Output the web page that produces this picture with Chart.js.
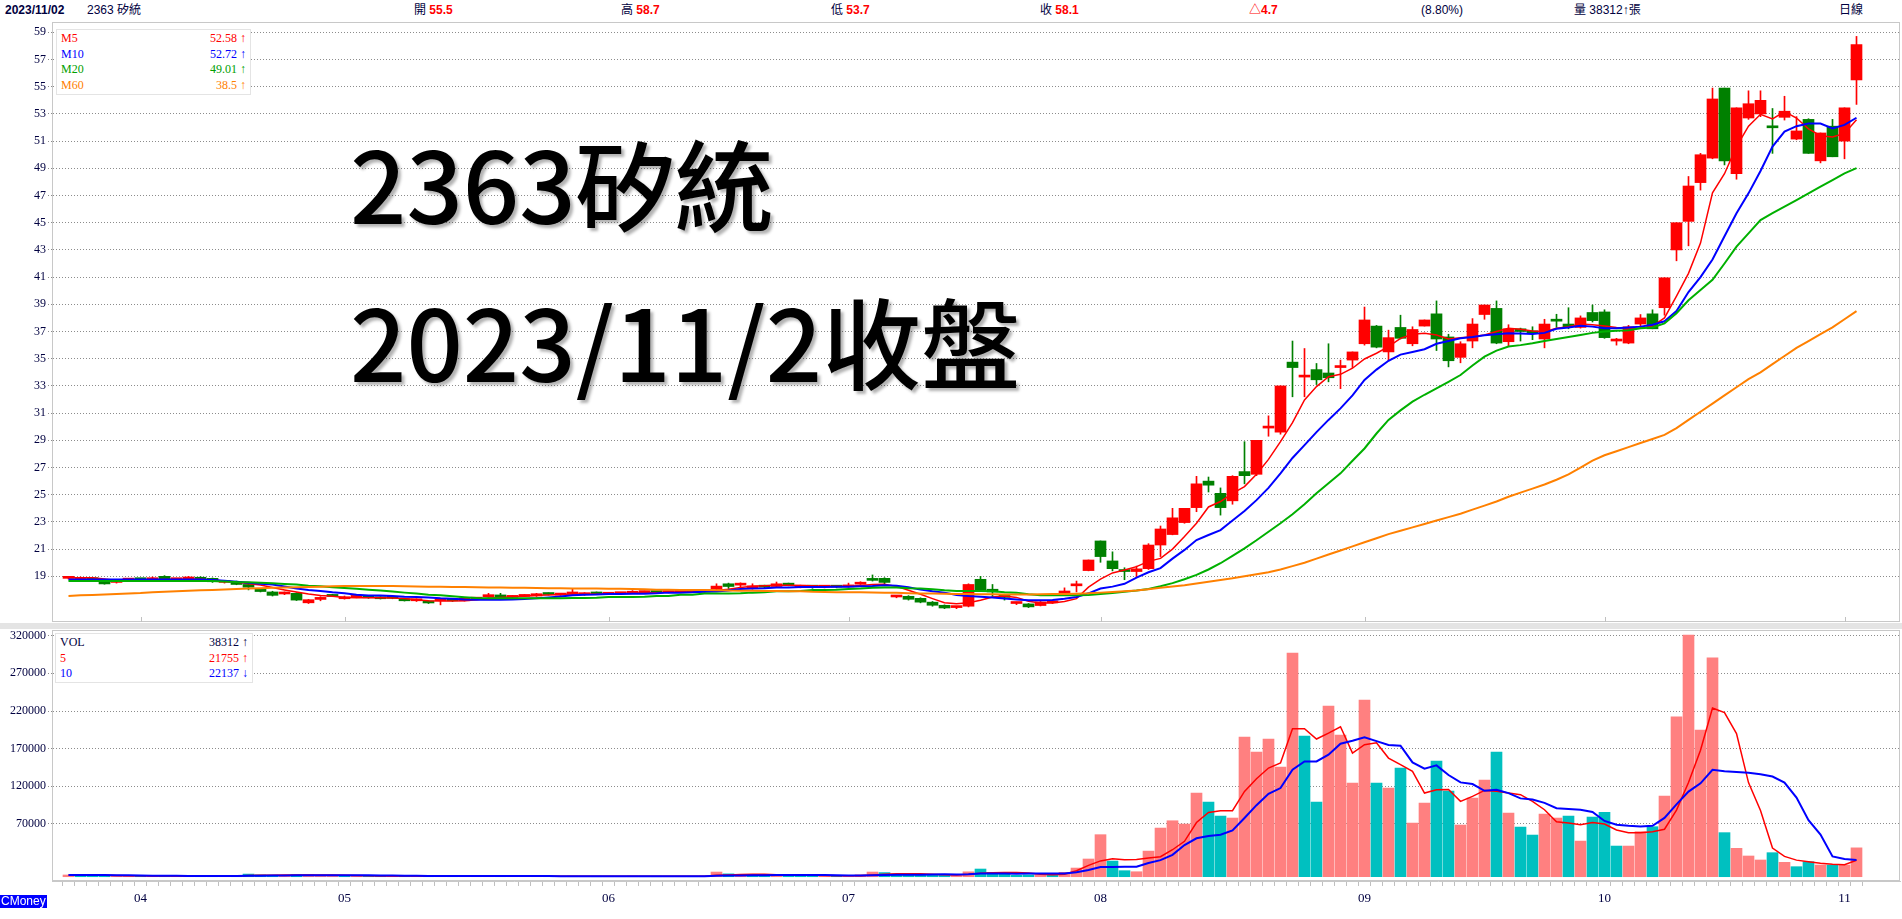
<!DOCTYPE html>
<html lang="zh-Hant">
<head>
<meta charset="UTF-8">
<title>2363 矽統 日線</title>
<script src="https://cdn.jsdelivr.net/npm/chart.js"></script>
<style>
  body { margin: 0; background: #fff; width: 1902px; height: 919px; overflow: hidden; position: relative;
         font-family: "Liberation Sans", "Noto Sans CJK TC", sans-serif; }
  .hd { position: absolute; top: 2px; font-size: 12px; line-height: 16px; color: #000040; white-space: nowrap; }
  .hd .v { color: #ff0000; font-weight: bold; }
  .wrap { position: absolute; left: 0; width: 1902px; }
  .sep { position: absolute; left: 0; top: 623px; width: 1902px; height: 6px; background: #e4e4e4; }
  .legend { position: absolute; background: #fff; border: 1px solid #e4e4e4; box-sizing: border-box;
            font-family: "Liberation Serif", "Noto Sans CJK TC", serif; font-size: 12px; padding: 1px 4px 0 4px; }
  .legend div { display: flex; justify-content: space-between; height: 15.7px; line-height: 15.7px; }
  .big { position: absolute; left: 350px; font-family: "Noto Sans CJK TC", sans-serif; font-size: 99px;
         font-weight: 500; line-height: 1; color: #000; white-space: nowrap;
         text-shadow: 3px 3px 3px rgba(0, 0, 0, 0.3); }
  .cm { position: absolute; left: 0; top: 895px; background: #0000ff; color: #fff; font-size: 12px;
        line-height: 13px; padding: 0 1px; }
</style>
</head>
<body>

<div class="hd" style="left:5px;font-weight:bold">2023/11/02</div>
<div class="hd" style="left:87px">2363 矽統</div>
<div class="hd" style="left:414px">開 <span class="v">55.5</span></div>
<div class="hd" style="left:621px">高 <span class="v">58.7</span></div>
<div class="hd" style="left:831px">低 <span class="v">53.7</span></div>
<div class="hd" style="left:1040px">收 <span class="v">58.1</span></div>
<div class="hd" style="left:1249px"><span class="v">△4.7</span></div>
<div class="hd" style="left:1421px">(8.80%)</div>
<div class="hd" style="left:1574px">量 38312↑張</div>
<div class="hd" style="left:1839px">日線</div>

<div class="wrap" style="top:22px;height:600px"><canvas id="priceChart" width="1902" height="600"></canvas></div>
<div class="sep"></div>
<div class="wrap" style="top:628px;height:291px"><canvas id="volChart" width="1902" height="291"></canvas></div>

<div class="legend" style="left:56px;top:29px;width:195px;height:66px">
  <div style="color:#ff0000"><span>M5</span><span>52.58 ↑</span></div>
  <div style="color:#0000ff"><span>M10</span><span>52.72 ↑</span></div>
  <div style="color:#00a000"><span>M20</span><span>49.01 ↑</span></div>
  <div style="color:#ff8000"><span>M60</span><span>38.5 ↑</span></div>
</div>

<div class="legend" style="left:55px;top:633px;width:198px;height:50px">
  <div style="color:#000040"><span>VOL</span><span>38312 ↑</span></div>
  <div style="color:#ff0000"><span>5</span><span>21755 ↑</span></div>
  <div style="color:#0000ff"><span>10</span><span>22137 ↓</span></div>
</div>

<div class="big" style="top:132px">2363矽統</div>
<div class="big" style="top:290px">2023/11/2收盤</div>
<div class="cm">CMoney</div>

<script>
// trading days (MM/DD), 2023/03/24 - 2023/11/02
const dates = [
  "03/24","03/27","03/28","03/29","03/30","03/31",
  "04/06","04/07","04/10","04/11","04/12","04/13","04/14","04/17","04/18","04/19","04/20","04/21","04/24","04/25","04/26","04/27","04/28",
  "05/02","05/03","05/04","05/05","05/08","05/09","05/10","05/11","05/12","05/15","05/16","05/17","05/18","05/19","05/22","05/23","05/24","05/25","05/26","05/29","05/30","05/31",
  "06/01","06/02","06/05","06/06","06/07","06/08","06/09","06/12","06/13","06/14","06/15","06/16","06/19","06/20","06/21","06/26","06/27","06/28","06/29","06/30",
  "07/03","07/04","07/05","07/06","07/07","07/10","07/11","07/12","07/13","07/14","07/17","07/18","07/19","07/20","07/21","07/24","07/25","07/26","07/27","07/28","07/31",
  "08/01","08/02","08/04","08/07","08/08","08/09","08/10","08/11","08/14","08/15","08/16","08/17","08/18","08/21","08/22","08/23","08/24","08/25","08/28","08/29","08/30","08/31",
  "09/01","09/04","09/05","09/06","09/07","09/08","09/11","09/12","09/13","09/14","09/15","09/18","09/19","09/20","09/21","09/22","09/25","09/26","09/27","09/28",
  "10/02","10/03","10/04","10/05","10/06","10/11","10/12","10/13","10/16","10/17","10/18","10/19","10/20","10/23","10/24","10/25","10/26","10/27","10/30","10/31",
  "11/01","11/02"
];

const open = [
  18.85,18.75,18.85,18.63,18.55,18.72,18.78,18.75,19.0,18.75,
  18.8,18.93,18.85,18.55,18.62,18.4,18.05,17.85,17.7,17.75,
  17.05,17.3,17.63,17.35,17.45,17.5,17.45,17.4,17.3,17.2,
  17.18,17.2,17.22,17.2,17.32,17.48,17.63,17.45,17.52,17.55,
  17.7,17.62,17.7,17.65,17.82,17.68,17.72,17.75,17.8,17.85,
  17.8,17.85,17.88,17.85,18.05,18.45,18.35,18.1,18.3,18.25,
  18.45,18.2,18.25,18.2,18.22,18.22,18.42,18.75,18.85,17.48,
  17.53,17.38,17.1,16.87,16.7,16.8,18.78,18.05,17.6,17.0,
  16.97,16.85,17.05,17.73,18.3,19.42,21.6,20.13,19.38,19.35,
  19.56,21.3,22.07,22.95,24.05,26.0,25.1,24.55,26.7,26.5,
  29.9,29.6,34.75,33.65,34.2,33.95,34.35,34.9,36.1,37.4,
  35.5,37.3,36.1,37.4,38.3,36.6,35.1,36.3,38.25,38.7,
  36.25,37.2,37.05,36.45,37.78,37.55,37.3,38.4,38.44,36.3,
  36.15,37.55,38.3,38.75,43.0,45.1,47.95,49.75,54.9,48.6,
  52.7,53.0,52.0,52.75,51.15,52.6,49.55,52.1,51.0,55.5
];
const high = [
  19.0,18.95,18.9,18.66,18.7,18.85,18.85,18.95,19.05,18.85,
  19.0,18.97,18.88,18.7,18.65,18.5,18.1,17.9,17.85,17.8,
  17.3,17.5,17.68,17.55,17.6,17.52,17.5,17.45,17.35,17.35,
  17.2,17.3,17.28,17.42,17.45,17.75,17.75,17.58,17.65,17.75,
  17.78,17.75,18.1,17.8,17.85,17.78,17.8,17.95,17.92,17.9,
  17.9,17.92,17.95,17.95,18.45,18.5,18.52,18.45,18.35,18.58,
  18.5,18.35,18.3,18.28,18.3,18.5,18.6,19.1,18.9,17.6,
  17.58,17.42,17.15,16.9,16.78,18.45,19.0,18.4,17.68,17.1,
  17.0,17.15,17.12,18.15,18.65,20.2,21.6,20.8,19.63,19.75,
  21.4,22.7,24.0,24.0,26.35,26.3,25.5,26.4,28.9,29.0,
  30.8,33.0,36.3,35.75,34.65,36.1,34.9,35.5,38.8,37.45,
  37.1,38.2,37.35,37.85,39.25,36.8,36.25,37.95,38.95,39.25,
  37.5,37.25,37.35,37.9,38.27,38.75,38.15,38.95,38.6,36.5,
  37.45,38.25,38.6,40.95,45.0,48.4,50.1,54.9,54.9,53.45,
  54.7,54.7,53.4,54.3,52.8,52.65,51.6,52.6,53.45,58.7
];
const low = [
  18.8,18.72,18.72,18.42,18.5,18.68,18.7,18.72,18.72,18.7,
  18.78,18.75,18.55,18.5,18.38,18.0,17.85,17.55,17.65,17.22,
  17.0,17.2,17.5,17.32,17.42,17.38,17.33,17.35,17.18,17.15,
  17.0,16.9,17.15,17.18,17.3,17.45,17.42,17.42,17.5,17.52,
  17.62,17.6,17.65,17.6,17.65,17.65,17.7,17.72,17.78,17.78,
  17.78,17.82,17.82,17.82,18.0,18.1,18.2,18.05,18.15,18.2,
  18.3,18.15,18.12,18.15,18.15,18.2,18.4,18.65,18.45,17.42,
  17.25,17.05,16.8,16.62,16.62,16.75,17.9,17.45,17.25,16.92,
  16.7,16.82,17.0,17.6,17.85,19.4,20.03,19.4,18.75,18.9,
  19.5,20.45,22.05,22.9,23.75,25.2,23.5,24.3,25.8,26.4,
  29.3,29.45,32.2,32.2,33.1,33.3,32.8,34.35,36.0,35.8,
  34.85,36.45,35.95,37.4,35.6,34.4,34.7,35.8,37.9,36.1,
  35.9,36.3,36.4,35.8,37.3,37.2,37.25,37.7,36.5,36.0,
  36.1,37.3,37.2,38.2,42.2,43.3,47.4,49.7,49.25,48.2,
  52.6,52.8,50.1,52.55,51.1,50.1,49.4,49.85,49.7,53.7
];
const close = [
  18.95,18.9,18.75,18.44,18.65,18.78,18.75,18.82,18.75,18.78,
  18.95,18.78,18.6,18.65,18.4,18.2,17.88,17.6,17.78,17.25,
  17.28,17.45,17.52,17.5,17.55,17.42,17.35,17.38,17.2,17.3,
  17.04,17.25,17.2,17.4,17.42,17.65,17.45,17.55,17.6,17.72,
  17.66,17.72,17.75,17.75,17.7,17.75,17.76,17.9,17.88,17.8,
  17.86,17.88,17.85,17.92,18.28,18.25,18.4,18.3,18.2,18.45,
  18.35,18.3,18.2,18.25,18.2,18.35,18.55,18.7,18.55,17.55,
  17.31,17.1,16.87,16.67,16.75,18.4,17.97,17.85,17.45,17.05,
  16.75,17.12,17.1,17.92,18.38,20.2,20.45,19.56,19.35,19.55,
  21.3,22.48,23.3,24.0,25.8,25.7,24.05,26.35,26.4,29.0,
  30.0,33.0,34.35,33.75,33.45,33.6,34.45,35.5,37.85,35.85,
  36.55,36.5,37.15,37.85,36.45,34.85,36.1,37.55,38.95,36.15,
  37.2,37.0,36.9,37.55,37.76,37.35,38.0,37.8,36.55,36.4,
  37.35,38.0,37.2,40.95,45.0,47.7,50.0,54.1,49.55,53.45,
  53.75,54.0,51.98,53.2,51.75,50.1,51.6,49.85,53.45,58.1
];

const ma5 = [
  18.9,18.9,18.9,18.8,18.7,18.72,18.73,18.75,18.76,18.77,
  18.78,18.78,18.72,18.66,18.58,18.46,18.36,18.17,18.0,17.85,
  17.7,17.58,17.53,17.45,17.43,17.43,17.42,17.4,17.36,17.28,
  17.21,17.19,17.19,17.2,17.28,17.38,17.45,17.5,17.53,17.6,
  17.63,17.66,17.7,17.69,17.68,17.72,17.73,17.78,17.8,17.8,
  17.84,17.85,17.86,17.88,17.95,18.05,18.17,18.27,18.3,18.34,
  18.34,18.33,18.3,18.27,18.26,18.27,18.33,18.39,18.41,18.26,
  17.97,17.68,17.36,17.06,16.99,17.06,17.24,17.48,17.55,17.45,
  17.16,17.04,17.04,17.14,17.36,18.2,18.8,19.25,19.47,19.71,
  20.1,20.32,21.0,21.92,22.9,24.1,24.5,25.1,25.6,26.5,
  27.6,28.9,30.3,31.97,32.95,33.68,33.85,34.3,34.98,35.4,
  35.89,36.5,36.8,36.87,36.75,36.45,36.55,36.62,36.75,37.0,
  37.24,37.16,37.04,36.99,37.24,37.36,37.55,37.5,37.4,37.3,
  37.24,37.24,37.4,38.0,39.6,41.28,43.5,47.2,48.6,50.6,
  52.1,52.97,52.63,53.17,52.7,51.9,51.4,51.3,51.57,52.58
];
const ma10 = [
  18.76,18.76,18.76,18.76,18.76,18.76,18.76,18.76,18.76,18.76,
  18.76,18.76,18.72,18.68,18.6,18.53,18.46,18.39,18.25,18.1,
  18.0,17.92,17.82,17.75,17.65,17.58,17.58,17.55,17.5,17.48,
  17.45,17.38,17.35,17.3,17.28,17.28,17.28,17.3,17.33,17.38,
  17.45,17.52,17.6,17.65,17.66,17.7,17.7,17.72,17.72,17.75,
  17.8,17.8,17.82,17.87,17.88,17.95,18.07,18.1,18.12,18.17,
  18.18,18.22,18.22,18.22,18.23,18.24,18.26,18.28,18.34,18.3,
  18.2,18.02,17.9,17.8,17.62,17.55,17.5,17.45,17.36,17.3,
  17.24,17.24,17.26,17.35,17.48,17.75,18.1,18.24,18.45,18.9,
  19.3,19.6,20.3,20.94,21.67,22.04,22.4,23.1,23.8,24.6,
  25.5,26.57,27.7,28.65,29.6,30.5,31.35,32.3,33.44,34.2,
  34.85,35.3,35.5,35.7,36.1,36.3,36.5,36.6,36.72,36.8,
  36.87,36.85,36.82,36.9,37.2,37.3,37.43,37.36,37.24,37.24,
  37.3,37.36,37.5,37.75,38.5,39.9,41.0,42.3,44.0,45.7,
  47.16,48.8,50.6,51.7,52.1,52.3,52.3,51.94,52.19,52.72
];
const ma20 = [
  18.65,18.65,18.65,18.65,18.65,18.65,18.65,18.65,18.65,18.65,
  18.65,18.65,18.66,18.62,18.58,18.56,18.52,18.49,18.44,18.39,
  18.31,18.26,18.2,18.14,18.08,18.02,17.96,17.88,17.8,17.73,
  17.65,17.6,17.53,17.46,17.4,17.38,17.38,17.38,17.38,17.38,
  17.38,17.38,17.4,17.4,17.42,17.48,17.48,17.48,17.5,17.55,
  17.55,17.65,17.65,17.73,17.73,17.73,17.75,17.8,17.82,17.9,
  17.9,17.92,18.0,18.0,18.02,18.07,18.1,18.15,18.17,18.17,
  18.12,18.1,18.05,17.97,17.92,17.92,17.92,17.9,17.82,17.8,
  17.68,17.6,17.6,17.6,17.6,17.63,17.7,17.78,17.87,17.96,
  18.07,18.27,18.5,18.78,19.1,19.5,19.96,20.5,21.06,21.65,
  22.28,22.9,23.56,24.3,25.1,25.85,26.57,27.5,28.4,29.5,
  30.5,31.2,31.84,32.35,32.82,33.3,33.8,34.5,35.15,35.6,
  35.9,36.0,36.13,36.3,36.45,36.6,36.75,36.9,37.0,37.05,
  37.1,37.24,37.3,37.6,38.34,39.3,40.05,40.8,42.0,43.24,
  44.22,45.2,45.7,46.18,46.67,47.16,47.65,48.14,48.63,49.01
];
const ma60 = [
  17.55,17.6,17.63,17.66,17.7,17.74,17.77,17.82,17.86,17.9,
  17.93,17.97,18.0,18.03,18.07,18.1,18.12,18.15,18.17,18.2,
  18.22,18.24,18.26,18.28,18.28,18.28,18.28,18.28,18.26,18.25,
  18.24,18.23,18.22,18.22,18.2,18.18,18.17,18.16,18.15,18.14,
  18.13,18.12,18.11,18.1,18.1,18.09,18.08,18.06,18.04,18.02,
  18.01,18.0,18.0,17.99,17.98,17.95,17.94,17.93,17.92,17.92,
  17.91,17.9,17.86,17.84,17.83,17.82,17.82,17.81,17.8,17.79,
  17.76,17.74,17.73,17.72,17.7,17.69,17.68,17.68,17.67,17.67,
  17.67,17.68,17.69,17.7,17.72,17.75,17.8,17.85,17.9,17.95,
  18.05,18.15,18.25,18.35,18.47,18.6,18.72,18.85,19.0,19.15,
  19.3,19.5,19.75,20.0,20.3,20.6,20.9,21.2,21.5,21.8,
  22.1,22.35,22.6,22.85,23.1,23.35,23.6,23.9,24.2,24.5,
  24.85,25.15,25.45,25.75,26.1,26.5,27.0,27.5,27.9,28.2,
  28.5,28.8,29.1,29.4,29.9,30.5,31.1,31.7,32.3,32.9,
  33.5,34.0,34.6,35.2,35.8,36.3,36.8,37.3,37.9,38.5
];

// volume in 張
const vol = [
  2300,1500,1200,1800,1000,900,800,900,1200,800,
  1000,900,1100,900,1400,3500,2500,2200,1800,2600,
  3000,1900,1200,1000,900,800,800,700,900,800,
  1000,1100,700,800,700,900,800,700,700,800,
  600,700,900,800,700,700,600,800,700,600,
  600,700,600,800,6200,3800,2600,2200,1500,2400,
  1800,1400,1000,900,900,1500,2600,6200,5500,3000,
  2600,2400,2800,2400,1600,6500,10200,5800,3500,1900,
  2400,2800,1800,5800,11500,23500,55800,20800,8000,6600,
  34000,64600,74300,69900,111000,99100,80500,77900,185400,165500,
  182800,145600,296900,186700,99100,226600,188000,124300,234500,124300,
  117700,144300,71200,97800,153500,113700,68600,104400,128300,165500,
  84500,65900,55300,83200,77900,80500,47300,79200,85400,40700,
  40700,59800,66400,107000,212400,320800,194700,290700,58500,37700,
  27500,22200,31900,19100,13300,19900,15500,15500,15500,38312
];
const volMa5 = [
  2200,2200,2200,1900,1560,1280,1140,920,960,920,
  940,960,1000,980,1060,1560,1880,2100,2280,2420,
  2420,2300,2140,1980,1600,1160,940,840,820,800,
  840,900,900,880,860,840,800,780,760,780,
  720,700,740,740,740,760,740,720,700,680,
  660,660,660,660,1780,2420,2800,3120,3260,2500,
  2100,1860,1820,1540,1240,1140,1380,2420,3340,3760,
  3980,3940,3260,2640,2360,3140,4680,5300,5520,5580,
  4760,3280,2480,3340,8000,15000,21000,23900,22600,23000,
  24800,26500,35800,47000,72000,85400,87600,87600,113300,130000,
  144300,151000,196500,196500,182800,190700,199100,164200,175200,177900,
  157500,148700,139800,111100,115500,115900,100000,106600,114600,113300,
  111000,108900,100000,88900,73000,71200,69000,72000,70000,62000,
  58500,58500,59700,63000,88500,125000,168000,224000,218000,190000,
  125000,88000,38000,27000,22000,20000,18000,16500,16000,21755
];
const volMa10 = [
  2400,2400,2300,2200,2000,1800,1500,1300,1200,1150,
  1100,1050,1000,980,1000,1200,1400,1550,1650,1800,
  1950,2050,2050,2000,1950,1800,1600,1450,1300,1200,
  1000,900,860,830,820,820,820,800,800,790,
  780,760,760,750,740,740,720,720,720,700,
  700,700,700,700,1250,1550,1750,1950,2050,2150,
  2150,2150,2150,2150,2050,1650,1600,1900,2300,2450,
  2550,2650,2900,3100,3000,3200,4300,4300,4200,4050,
  4100,4300,4300,4100,5800,9000,12800,13000,13200,13300,
  18100,22000,29000,42000,51000,54000,55800,61500,77900,95000,
  110000,117700,142000,153000,153000,162000,176600,180500,185000,180000,
  175000,174000,151800,143400,147800,135000,125200,123000,114000,115500,
  111000,104000,102500,98000,91000,90000,89000,86000,74000,69000,
  67500,66800,67700,78000,96000,113000,124000,142000,140000,139000,
  138000,136000,133000,125000,105000,75000,56000,27000,23500,22137
];

const priceTicks = [19, 21, 23, 25, 27, 29, 31, 33, 35, 37, 39, 41, 43, 45, 47, 49, 51, 53, 55, 57, 59];
const volTicks = [70000, 120000, 170000, 220000, 270000, 320000];

const idx = dates.map((d, i) => i);
// first trading day of each month gets its month number as label
const monthLabel = {};
idx.forEach(i => {
  if (i > 0 && dates[i].slice(0, 2) !== dates[i - 1].slice(0, 2)) monthLabel[i] = dates[i].slice(0, 2);
});

const upCol = '#ff0000', downCol = '#008000';
const candleCol = i => close[i] >= open[i] ? upCol : downCol;
const volCol = i => (i === 0 || close[i] >= close[i - 1]) ? '#ff8080' : '#00c0c0';

const xRange = { type: 'linear', min: -1.375, max: 152.625, offset: false };
const axisFont = { family: 'Liberation Serif', size: 12 };
const noPad = s => { s.width = 52; s.paddingTop = 0; s.paddingBottom = 0; s.paddingLeft = 0; s.paddingRight = 0; };

const frame = {
  id: 'frame',
  afterDraw(chart) {
    const { ctx, chartArea: a } = chart;
    ctx.save();
    ctx.strokeStyle = '#c8c8c8';
    ctx.lineWidth = 1;
    ctx.strokeRect(a.left + 0.5, a.top + 0.5, a.right - a.left - 1, a.bottom - a.top - 1);
    ctx.restore();
  }
};

const monthTicks = {
  id: 'monthTicks',
  afterDraw(chart) {
    const { ctx, chartArea: a } = chart;
    const x = chart.scales.x;
    ctx.save();
    ctx.strokeStyle = '#c0c0c0';
    ctx.lineWidth = 1;
    Object.keys(monthLabel).forEach(k => {
      const px = Math.round(x.getPixelForValue(Number(k))) + 0.5;
      ctx.beginPath();
      ctx.moveTo(px, a.bottom - 5);
      ctx.lineTo(px, a.bottom);
      ctx.stroke();
    });
    ctx.restore();
  }
};

const maLine = (data, color, width) => ({
  type: 'line',
  data: idx.map(i => ({ x: i, y: data[i] })),
  borderColor: color,
  borderWidth: width,
  pointRadius: 0,
  tension: 0,
  order: 1
});

new Chart(document.getElementById('priceChart'), {
  type: 'bar',
  data: {
    datasets: [
      maLine(ma60, '#ff8000', 2),
      maLine(ma20, '#00b000', 2),
      maLine(ma10, '#0000ff', 2),
      maLine(ma5, '#ff0000', 1.5),
      {
        data: idx.map(i => ({ x: i, y: [low[i], high[i]] })),
        backgroundColor: ctx => candleCol(ctx.dataIndex),
        barThickness: 1,
        grouped: false,
        order: 10
      },
      {
        data: idx.map(i => ({ x: i, y: [open[i], close[i]] })),
        backgroundColor: ctx => candleCol(ctx.dataIndex),
        barThickness: 11,
        minBarLength: 2,
        grouped: false,
        order: 9
      }
    ]
  },
  options: {
    responsive: false,
    animation: false,
    devicePixelRatio: 1,
    layout: { padding: { top: 0, bottom: 0, left: 0, right: 2 } },
    plugins: { legend: { display: false }, tooltip: { enabled: false } },
    scales: {
      x: Object.assign({ display: false }, xRange),
      y: {
        type: 'linear',
        position: 'left',
        min: 15.64,
        max: 59.76,
        afterBuildTicks: s => { s.ticks = priceTicks.map(v => ({ value: v })); },
        afterFit: noPad,
        grid: { color: '#8c8c8c', tickLength: 4, tickBorderDash: [1, 2], tickColor: '#8c8c8c' },
        border: { color: '#c8c8c8', dash: [1, 2] },
        ticks: { padding: 2, color: '#000040', font: axisFont, callback: v => String(v) }
      }
    }
  },
  plugins: [frame, monthTicks]
});

new Chart(document.getElementById('volChart'), {
  type: 'bar',
  data: {
    datasets: [
      maLine(volMa10, '#0000ff', 2),
      maLine(volMa5, '#ff0000', 1.5),
      {
        data: idx.map(i => ({ x: i, y: vol[i] })),
        backgroundColor: ctx => volCol(ctx.dataIndex),
        barThickness: 11,
        grouped: false,
        order: 10
      }
    ]
  },
  options: {
    responsive: false,
    animation: false,
    devicePixelRatio: 1,
    layout: { padding: { top: 2, bottom: 0, left: 0, right: 2 } },
    plugins: { legend: { display: false }, tooltip: { enabled: false } },
    scales: {
      x: Object.assign({
        position: 'bottom',
        afterBuildTicks: s => { s.ticks = idx.map(v => ({ value: v })); },
        afterFit: s => { s.height = 38; s.paddingLeft = 0; s.paddingRight = 0; },
        grid: { drawOnChartArea: false, drawTicks: true, tickLength: 5, color: '#c0c0c0', tickColor: '#c0c0c0' },
        border: { color: '#c8c8c8' },
        ticks: {
          autoSkip: false,
          maxRotation: 0,
          padding: 5,
          color: '#000040',
          font: { family: 'Liberation Serif', size: 13 },
          callback: v => monthLabel[v] || ''
        }
      }, xRange),
      y: {
        type: 'linear',
        position: 'left',
        min: -5700,
        max: 327545,
        afterBuildTicks: s => { s.ticks = volTicks.map(v => ({ value: v })); },
        afterFit: noPad,
        grid: { color: '#8c8c8c', tickLength: 4, tickBorderDash: [1, 2], tickColor: '#8c8c8c' },
        border: { color: '#c8c8c8', dash: [1, 2] },
        ticks: { padding: 2, color: '#000040', font: axisFont, callback: v => String(v) }
      }
    }
  },
  plugins: [frame]
});
</script>
</body>
</html>
